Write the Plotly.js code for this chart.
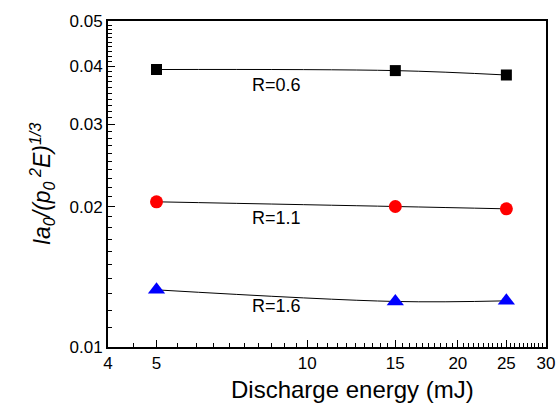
<!DOCTYPE html>
<html><head><meta charset="utf-8">
<script src="https://cdn.plot.ly/plotly-3.0.1.min.js"></script>
<style>html,body{margin:0;padding:0;background:#fff}</style>
</head><body><div id="chart" style="width:558px;height:403px"></div>
<script>
const energy = [5, 15, 25];
const r06 = [0.03935, 0.03914, 0.0383];
const r11 = [0.02048, 0.02001, 0.01978];
const r16 = [0.01326, 0.01252, 0.01256];
const seriesLabels = ['R=0.6', 'R=1.1', 'R=1.6'];
const xTickVals = [4, 5, 10, 15, 20, 25, 30];
const xTickText = ['4', '5', '10', '15', '20', '25', '30'];
const yTickVals = [0.01, 0.02, 0.03, 0.04, 0.05];
const yTickText = ['0.01', '0.02', '0.03', '0.04', '0.05'];
const xTitle = 'Discharge energy (mJ)';
const yTitle = '<i>Ia</i><sub><i>0</i></sub><i>/(p</i><sub><i>0</i></sub><sup><i> 2</i></sup><i>E)</i><sup><i>1/3</i></sup>';

// minor tick positions (steps of 0.5 on x, 0.001 on y)
const xMinor = [];
for (let k = 9; k <= 59; k++) { const v = k / 2; if (xTickVals.indexOf(v) < 0) xMinor.push(v); }
const yMinor = [];
for (let k = 11; k <= 49; k++) { if (k % 10 !== 0) yMinor.push(k / 1000); }

const FONT = 'Liberation Sans, Arial, sans-serif';
const lineStyle = {color: 'black', width: 1, shape: 'spline', smoothing: 1};

const traces = [
  {x: energy, y: r06, name: seriesLabels[0], mode: 'lines+markers', line: lineStyle,
   marker: {symbol: 'square', size: 11, color: 'black'}},
  {x: energy, y: r11, name: seriesLabels[1], mode: 'lines+markers', line: lineStyle,
   marker: {symbol: 'circle', size: 13, color: '#ff0000'}},
  {x: energy, y: r16, name: seriesLabels[2], mode: 'lines+markers', line: lineStyle,
   marker: {symbol: 'triangle-up', size: 15, color: '#0000ff'}}
];

const axisCommon = {
  type: 'log', tickmode: 'array', ticks: 'inside', ticklen: 7, tickwidth: 1, tickcolor: 'black',
  showline: true, linewidth: 2, linecolor: 'black', mirror: true,
  showgrid: false, zeroline: false,
  tickfont: {family: FONT, size: 17, color: 'black'}
};

const layout = {
  width: 558, height: 403,
  margin: {l: 108, r: 12, t: 21, b: 56},
  paper_bgcolor: 'white', plot_bgcolor: 'white',
  showlegend: false,
  font: {family: FONT, size: 17, color: 'black'},
  xaxis: Object.assign({}, axisCommon, {
    range: [Math.log10(4), Math.log10(30)],
    tickvals: xTickVals, ticktext: xTickText,
    minor: {tickmode: 'array', tickvals: xMinor, ticks: 'inside', ticklen: 4, tickwidth: 1, tickcolor: 'black', showgrid: false}
  }),
  yaxis: Object.assign({}, axisCommon, {
    range: [Math.log10(0.01), Math.log10(0.05)],
    tickvals: yTickVals, ticktext: yTickText,
    minor: {tickmode: 'array', tickvals: yMinor, ticks: 'inside', ticklen: 4, tickwidth: 1, tickcolor: 'black', showgrid: false},
    title: {text: yTitle, font: {family: FONT, size: 23, color: 'black'}, standoff: 12}
  }),
  annotations: [
    {text: xTitle, xref: 'paper', yref: 'paper', x: 0.558, y: -0.129, xanchor: 'center', yanchor: 'middle',
     showarrow: false, font: {family: FONT, size: 24, color: 'black'}},
    {text: seriesLabels[0], xref: 'paper', yref: 'paper', x: 0.385, y: 0.804, xanchor: 'center', yanchor: 'middle',
     showarrow: false, font: {family: FONT, size: 18, color: 'black'}},
    {text: seriesLabels[1], xref: 'paper', yref: 'paper', x: 0.385, y: 0.397, xanchor: 'center', yanchor: 'middle',
     showarrow: false, font: {family: FONT, size: 18, color: 'black'}},
    {text: seriesLabels[2], xref: 'paper', yref: 'paper', x: 0.385, y: 0.126, xanchor: 'center', yanchor: 'middle',
     showarrow: false, font: {family: FONT, size: 18, color: 'black'}}
  ]
};

Plotly.newPlot('chart', traces, layout, {staticPlot: true, displayModeBar: false});
</script>
</body></html>
